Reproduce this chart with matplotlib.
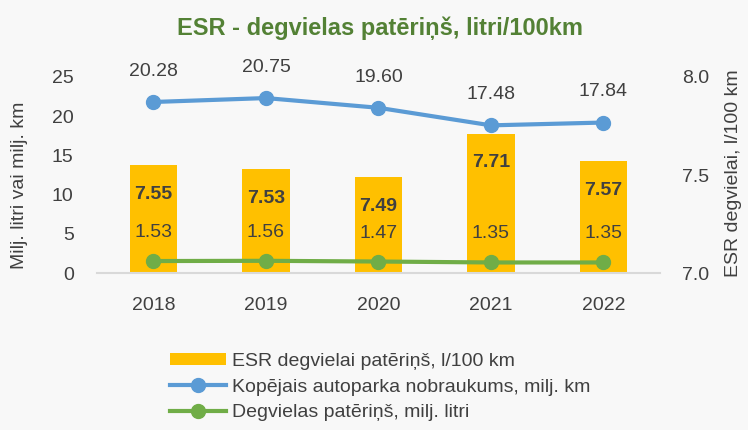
import matplotlib.pyplot as plt
import numpy as np
from matplotlib.lines import Line2D
from matplotlib.patches import Patch

years = ["2018", "2019", "2020", "2021", "2022"]
esr_l100 = [7.55, 7.53, 7.49, 7.71, 7.57]
km_mln = [20.28, 20.75, 19.60, 17.48, 17.84]
fuel_mln = [1.53, 1.56, 1.47, 1.35, 1.35]

TEXT = "#404040"
BAR = "#FFC000"
BLUE = "#5B9BD5"
GREEN = "#70AD47"
BG = "#F8F8F8"


def main() -> None:
    plt.rcParams["font.family"] = ["Liberation Sans", "DejaVu Sans"]
    fig = plt.figure(figsize=(7.48, 4.30), dpi=100, facecolor=BG)
    ax1 = fig.add_axes([0.130, 0.365, 0.752, 0.456])
    ax2 = ax1.twinx()
    ax1.set_zorder(ax2.get_zorder() + 1)
    ax1.patch.set_visible(False)
    ax2.set_facecolor(BG)

    x = np.arange(len(years))

    # bars: ESR consumption on the right axis
    ax2.bar(x, esr_l100, width=0.42, color=BAR, bottom=0)
    ax2.set_ylim(7.0, 8.0)
    for xi, v in zip(x, esr_l100):
        ax2.annotate(f"{v:.2f}", (xi, v), xytext=(0, -21), textcoords="offset points",
                     ha="center", va="center", fontsize=14, fontweight="bold", color=TEXT)

    # lines: stacked (fuel at bottom, km on top of it)
    km_stacked = np.array(fuel_mln) + np.array(km_mln)
    ax1.plot(x, km_stacked, color=BLUE, lw=3, marker="o", ms=10, solid_capstyle="round")
    ax1.plot(x, fuel_mln, color=GREEN, lw=3, marker="o", ms=10, solid_capstyle="round")
    for xi, ys, v in zip(x, km_stacked, km_mln):
        ax1.annotate(f"{v:.2f}", (xi, ys), xytext=(0, 22), textcoords="offset points",
                     ha="center", va="center", fontsize=14, color=TEXT)
    for xi, v in zip(x, fuel_mln):
        ax1.annotate(f"{v:.2f}", (xi, v), xytext=(0, 20.5), textcoords="offset points",
                     ha="center", va="center", fontsize=14, color=TEXT)

    ax1.set_xlim(-0.5, 4.5)
    ax1.set_ylim(0, 25)
    ax1.set_yticks([0, 5, 10, 15, 20, 25])
    ax2.set_yticks([7.0, 7.5, 8.0])
    ax2.set_yticklabels(["7.0", "7.5", "8.0"])
    ax1.set_xticks(x)
    ax1.set_xticklabels(years)

    for ax in (ax1, ax2):
        for s in ax.spines.values():
            s.set_visible(False)
    ax1.spines["bottom"].set_visible(True)
    ax1.spines["bottom"].set_color("#D9D9D9")
    ax1.spines["bottom"].set_linewidth(1.5)

    ax1.tick_params(axis="y", length=0, pad=17, labelsize=14, labelcolor=TEXT)
    ax1.tick_params(axis="x", length=0, pad=17, labelsize=14, labelcolor=TEXT)
    ax2.tick_params(axis="y", length=0, pad=16, labelsize=14, labelcolor=TEXT)

    fig.text(20 / 748, 1 - 185 / 430, "Milj. litri vai milj. km", rotation=90,
             ha="center", va="center", fontsize=14, color=TEXT)
    fig.text(733 / 748, 1 - 173 / 430, "ESR degvielai, l/100 km", rotation=90,
             ha="center", va="center", fontsize=14, color=TEXT)
    fig.text(380 / 748, 1 - 28 / 430, "ESR - degvielas patēriņš, litri/100km",
             ha="center", va="center", fontsize=17, fontweight="bold", color="#538135")

    handles = [
        Patch(facecolor=BAR, edgecolor="none"),
        Line2D([], [], color=BLUE, lw=3, marker="o", ms=10),
        Line2D([], [], color=GREEN, lw=3, marker="o", ms=10),
    ]
    labels = [
        "ESR degvielai patēriņš, l/100 km",
        "Kopējais autoparka nobraukums, milj. km",
        "Degvielas patēriņš, milj. litri",
    ]
    fig.legend(handles, labels, loc="upper left", bbox_to_anchor=(160 / 748, 1 - 343 / 430),
               frameon=False, fontsize=14, labelcolor=TEXT, handlelength=2.9,
               handleheight=0.6, handletextpad=0.3, labelspacing=0.45, borderpad=0)

    fig.savefig("out.png", dpi=100, facecolor=BG)


if __name__ == "__main__":
    main()
